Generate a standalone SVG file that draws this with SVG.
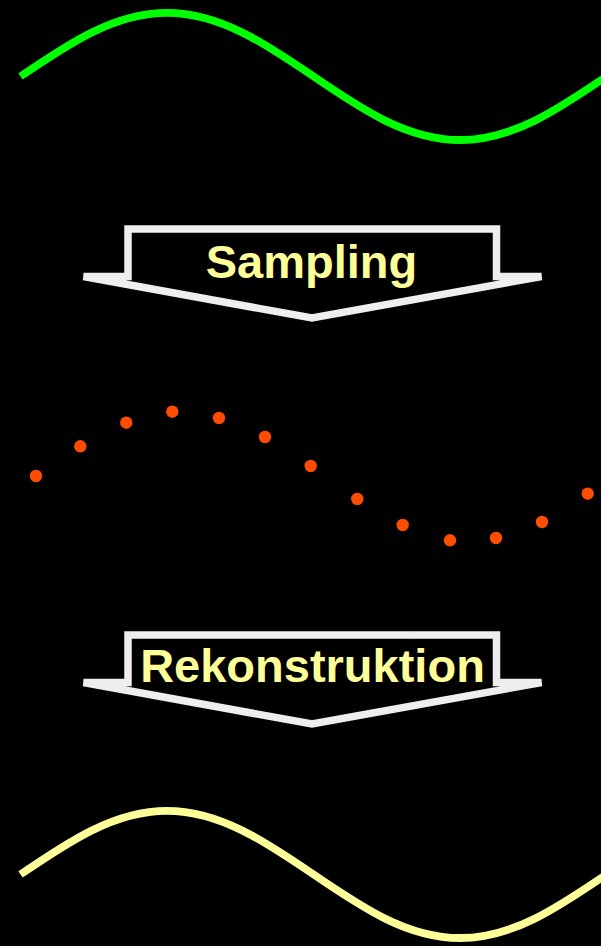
<svg xmlns="http://www.w3.org/2000/svg" width="601" height="946" viewBox="0 0 601 946">
  <style>
    .wave { fill: none; stroke-width: 7.8; stroke-linecap: butt; stroke-linejoin: round; }
    .frame { fill: #000000; stroke: #eeeeee; stroke-width: 7.5; stroke-linejoin: miter; stroke-miterlimit: 4; }
    .label { font-family: "Liberation Sans", Arial, sans-serif; font-weight: bold; font-size: 47px; fill: #ffff99; text-anchor: middle; }
    .dot { fill: #ff4d00; }
  </style>
  <defs>
    <path id="sine" d="M20.5,76.4 C68.28,43.82 113.98,12.8 167,12.8 S265.72,43.82 313.5,76.4 S406.98,140 460,140 S558.72,108.98 606.5,76.4"/>
    <path id="arrowShape" d="M128,229 L496.5,229 L496.5,276.5 L541.5,276.5 L312,318 L83.5,276.5 L128,276.5 Z"/>
  </defs>
  <rect x="0" y="0" width="601" height="946" fill="#000000"/>

  <g id="signal-original">
    <use href="#sine" class="wave" stroke="#00ff00"/>
  </g>

  <g id="arrow-sampling">
    <use href="#arrowShape" class="frame"/>
    <text class="label" x="311.5" y="278">Sampling</text>
  </g>

  <g id="samples">
    <circle class="dot" cx="36" cy="476" r="6.2"/>
    <circle class="dot" cx="80.3" cy="446.3" r="6.2"/>
    <circle class="dot" cx="126.3" cy="422.7" r="6.2"/>
    <circle class="dot" cx="172.3" cy="411.7" r="6.2"/>
    <circle class="dot" cx="219" cy="418" r="6.2"/>
    <circle class="dot" cx="265" cy="437" r="6.2"/>
    <circle class="dot" cx="310.7" cy="466" r="6.2"/>
    <circle class="dot" cx="357.3" cy="499" r="6.2"/>
    <circle class="dot" cx="402.7" cy="525" r="6.2"/>
    <circle class="dot" cx="450" cy="540.3" r="6.2"/>
    <circle class="dot" cx="496" cy="538" r="6.2"/>
    <circle class="dot" cx="542" cy="522" r="6.2"/>
    <circle class="dot" cx="587.7" cy="493.7" r="6.2"/>
  </g>

  <g id="arrow-rekonstruktion">
    <use href="#arrowShape" class="frame" transform="translate(0,406)"/>
    <text class="label" x="312.5" y="681.5">Rekonstruktion</text>
  </g>

  <g id="signal-reconstructed">
    <use href="#sine" class="wave" stroke="#ffff99" transform="translate(0,798)"/>
  </g>

  <g id="connectors"></g>
</svg>
